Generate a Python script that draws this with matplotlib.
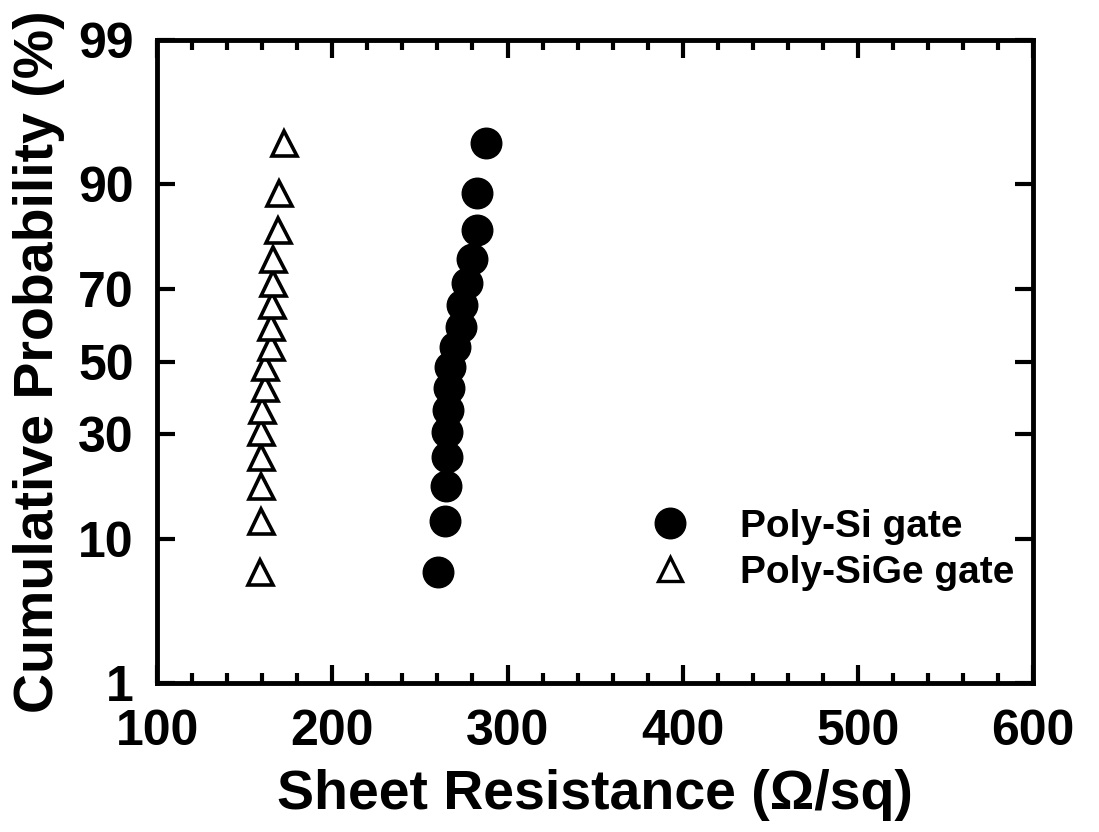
from statistics import NormalDist
import numpy as np
import matplotlib
matplotlib.use("Agg")
import matplotlib.pyplot as plt
from matplotlib.lines import Line2D
from matplotlib.ticker import MultipleLocator, FixedLocator, FixedFormatter

# cumulative probability (%) of each ranked sample
prob = [6.4, 12.4, 18.4, 24.5, 30.5, 36.3, 42.4, 48.4,
        54.2, 59.9, 65.9, 71.5, 77.1, 82.9, 88.9, 94.3]

# sheet resistance (ohm/sq)
rs_si = [260.4, 264.4, 264.9, 265.2, 265.6, 266.1, 266.4, 267.0,
         270.1, 273.5, 274.3, 276.9, 279.8, 282.3, 282.8, 287.8]
rs_sige = [158.8, 159.2, 159.5, 159.4, 159.5, 160.1, 161.4, 161.6,
           164.9, 165.2, 165.8, 166.0, 166.4, 169.1, 169.3, 172.5]

y_ticks = [1, 10, 30, 50, 70, 90, 99]

nd = NormalDist()
_ppf = np.vectorize(lambda v: nd.inv_cdf(v / 100.0), otypes=[float])
_cdf = np.vectorize(lambda v: nd.cdf(v) * 100.0, otypes=[float])


def probit(p):
    p = np.clip(np.asarray(p, dtype=float), 1e-6, 100 - 1e-6)
    return _ppf(p)


def inv_probit(z):
    return _cdf(np.asarray(z, dtype=float))


plt.rcParams['font.family'] = ['Liberation Sans', 'DejaVu Sans']
plt.rcParams['font.weight'] = 'bold'

fig = plt.figure(figsize=(10.99, 8.32), dpi=100)
ax = fig.add_axes([0.143, 0.179, 0.797, 0.773])

ax.plot(rs_si, prob, 'o', color='black', markersize=22, zorder=3)
ax.plot(rs_sige, prob, '^', markerfacecolor='white', markeredgecolor='black',
        markersize=18, markeredgewidth=2.6, zorder=3)

ax.set_yscale('function', functions=(probit, inv_probit))
ax.set_ylim(1, 99)
ax.set_xlim(100, 600)

ax.yaxis.set_major_locator(FixedLocator(y_ticks))
ax.yaxis.set_major_formatter(FixedFormatter([str(t) for t in y_ticks]))
ax.yaxis.set_minor_locator(FixedLocator([]))
ax.xaxis.set_major_locator(MultipleLocator(100))
ax.xaxis.set_minor_locator(MultipleLocator(20))

for s in ax.spines.values():
    s.set_linewidth(3.5)
ax.tick_params(which='both', direction='in', top=True, right=True, width=3)
ax.tick_params(which='major', length=13)
ax.tick_params(which='minor', length=7)
ax.tick_params(axis='x', labelsize=36, pad=19)
ax.tick_params(axis='y', labelsize=36, pad=17)

ax.set_xlabel('Sheet Resistance (\u03a9/sq)', fontsize=40, fontweight='bold', labelpad=10)
ax.set_ylabel('Cumulative Probability (%)', fontsize=40, fontweight='bold', labelpad=9)

handles = [
    Line2D([], [], linestyle='none', marker='o', color='black', markersize=22),
    Line2D([], [], linestyle='none', marker='^', markerfacecolor='white',
           markeredgecolor='black', markersize=17, markeredgewidth=2.4),
]
ax.legend(handles, ['Poly-Si gate', 'Poly-SiGe gate'], loc='center left',
          bbox_to_anchor=(0.541, 0.207), frameon=False, fontsize=28,
          handlelength=1.0, handletextpad=1.3, labelspacing=0.25, borderpad=0)

fig.savefig('out.png', dpi=100)
